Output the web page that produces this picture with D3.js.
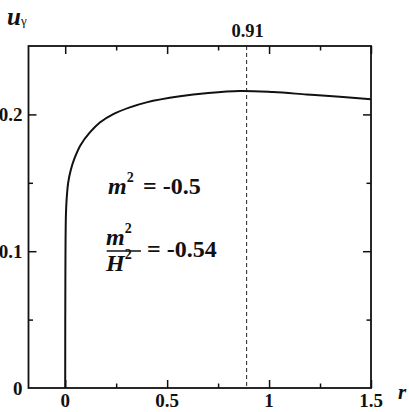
<!DOCTYPE html>
<html><head><meta charset="utf-8">
<script src="https://cdn.jsdelivr.net/npm/d3@7/dist/d3.min.js"></script>
<style>body{margin:0;background:#fff}svg{display:block}text{font-family:"Liberation Serif","Times New Roman",serif;font-weight:bold;fill:#111}</style>
</head><body><svg id="c" width="409" height="412"></svg>
<script>
const rValues = [0, 0.001, 0.0034, 0.0069, 0.0147, 0.028, 0.046, 0.075, 0.121, 0.170, 0.236, 0.317, 0.399, 0.563, 0.702, 0.857, 1.019, 1.184, 1.347, 1.5];
const uValues = [0, 0.086, 0.1255, 0.1377, 0.1502, 0.1597, 0.168, 0.1775, 0.1868, 0.1941, 0.2002, 0.2051, 0.2088, 0.2132, 0.2156, 0.2171, 0.2163, 0.2146, 0.2129, 0.2110];
const xMajor = [0, 0.5, 1, 1.5];
const xMinor = [0.25, 0.75, 1.25];
const xTickLabels = ["0", "0.5", "1", "1.5"];
const yMajor = [0, 0.1, 0.2];
const yMinor = [0.05, 0.15];
const yTickLabels = ["0", "0.1", "0.2"];
const peakLineX = 0.89;
const peakLabel = "0.91";

const svg = d3.select("#c");
const L = 28.5, R = 371, T = 46, B = 388;
const x = d3.scaleLinear().domain([-0.18, 1.5]).range([L, R]);
const y = d3.scaleLinear().domain([0, 0.25]).range([B, T]);

function tickAxis(axisFn, scale, vals, size, transform) {
  const g = svg.append("g").attr("transform", transform)
    .call(axisFn(scale).tickValues(vals).tickSize(size).tickFormat(""));
  g.select(".domain").remove();
  g.selectAll(".tick line").attr("stroke", "#111").attr("stroke-width", 1.5);
}
tickAxis(d3.axisBottom, x, xMajor, -8, `translate(0,${B})`);
tickAxis(d3.axisBottom, x, xMinor, -4.5, `translate(0,${B})`);
tickAxis(d3.axisTop, x, xMajor, -8, `translate(0,${T})`);
tickAxis(d3.axisTop, x, xMinor, -4.5, `translate(0,${T})`);
tickAxis(d3.axisLeft, y, yMajor.filter(v => v > 0), -8, `translate(${L},0)`);
tickAxis(d3.axisLeft, y, yMinor, -4.5, `translate(${L},0)`);
tickAxis(d3.axisRight, y, yMajor.filter(v => v > 0), -8, `translate(${R},0)`);
tickAxis(d3.axisRight, y, yMinor, -4.5, `translate(${R},0)`);

// dashed line
svg.append("line").attr("x1", x(peakLineX)).attr("x2", x(peakLineX))
  .attr("y1", T).attr("y2", B).attr("stroke", "#222").attr("stroke-width", 1)
  .attr("stroke-dasharray", "4,3");

// curve
const pts = rValues.map((r, i) => [r, uValues[i]]);
svg.append("path").datum(pts)
  .attr("d", d3.line().x(d => x(d[0])).y(d => y(d[1])).curve(d3.curveCatmullRom.alpha(0.5)))
  .attr("fill", "none").attr("stroke", "#111").attr("stroke-width", 2);

// frame
svg.append("rect").attr("x", L).attr("y", T).attr("width", R - L).attr("height", B - T)
  .attr("fill", "none").attr("stroke", "#111").attr("stroke-width", 1.8);

// tick labels
svg.selectAll(".xl").data(xMajor).enter().append("text")
  .attr("x", d => x(d)).attr("y", 406.5).attr("text-anchor", "middle")
  .attr("font-size", 19).text((d, i) => xTickLabels[i]);
svg.selectAll(".yl").data(yMajor).enter().append("text")
  .attr("x", 22.5).attr("y", d => y(d)).attr("dy", "0.35em").attr("text-anchor", "end")
  .attr("font-size", 19).text((d, i) => yTickLabels[i]);

// peak label
svg.append("text").attr("x", x(peakLineX) + 1).attr("y", 36.5).attr("text-anchor", "middle")
  .attr("font-size", 18.5).text(peakLabel);

// axis titles
const ut = svg.append("text").attr("x", 7).attr("y", 25);
ut.append("tspan").attr("font-size", 25).attr("font-style", "italic").text("u");
ut.append("tspan").attr("font-size", 13).attr("font-weight", "normal").attr("dx", 0).text("γ");
svg.append("text").attr("x", 398).attr("y", 399).attr("font-size", 21).attr("font-style", "italic").text("r");

// annotation 1
const a1 = svg.append("text").attr("x", 108).attr("y", 194).attr("font-size", 24);
a1.append("tspan").attr("font-style", "italic").text("m");
a1.append("tspan").attr("font-size", 14).attr("dy", -12).text("2");
svg.append("text").attr("x", 143).attr("y", 194).attr("font-size", 24).text("= -0.5");

// annotation 2 (fraction)
const n = svg.append("text").attr("x", 106).attr("y", 245).attr("font-size", 24);
n.append("tspan").attr("font-style", "italic").text("m");
n.append("tspan").attr("font-size", 14).attr("dy", -12).text("2");
svg.append("line").attr("x1", 106.7).attr("x2", 141).attr("y1", 251).attr("y2", 251)
  .attr("stroke", "#111").attr("stroke-width", 1.5);
const dd = svg.append("text").attr("x", 106).attr("y", 271).attr("font-size", 24);
dd.append("tspan").attr("font-style", "italic").text("H");
dd.append("tspan").attr("font-size", 14).attr("dy", -12).text("2");
svg.append("text").attr("x", 147).attr("y", 257).attr("font-size", 24).text("= -0.54");
</script></body></html>
